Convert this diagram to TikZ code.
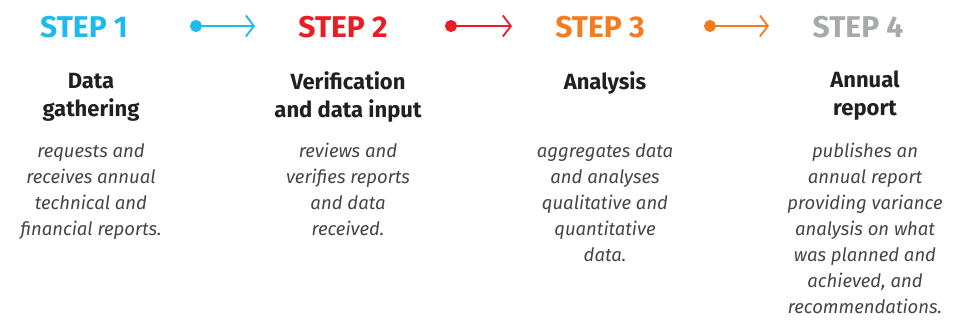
\documentclass[tikz,border=0pt]{standalone}
\usepackage{fontspec}
\setmainfont{Fira Sans}
\usetikzlibrary{arrows.meta}
\definecolor{stepcyan}{HTML}{1CBBEC}
\definecolor{stepred}{HTML}{ED1C24}
\definecolor{steporange}{HTML}{F47B20}
\definecolor{stepgray}{HTML}{A7A9AC}
\definecolor{titleink}{HTML}{231F20}
\definecolor{descink}{HTML}{454547}
\tikzset{
  steplabel/.style={font=\fontsize{30}{31}\selectfont\bfseries, inner sep=0pt},
  title/.style={font=\fontsize{22}{28}\selectfont\bfseries, align=center, anchor=north, inner sep=0pt, text=titleink},
  desc/.style={font=\fontsize{18.5}{26}\selectfont\itshape, align=center, anchor=north, inner sep=0pt, text=descink},
  flow/.style={line width=1.8pt, {Circle[length=12pt]}-{Straight Barb[length=8pt,width=21pt]}}
}
\begin{document}
\begin{tikzpicture}[x=1pt,y=-1pt]
\useasboundingbox (0,0) rectangle (957,321);
% step headings
\node[steplabel, text=stepcyan] (s1) at (84,27) {STEP 1};
\node[steplabel, text=stepred] (s2) at (343,27) {STEP 2};
\node[steplabel, text=steporange] (s3) at (600,27) {STEP 3};
\node[steplabel, text=stepgray] (s4) at (858,27) {STEP 4};

% arrows between steps
\coordinate (a1s) at (190,26); \coordinate (a1e) at (255,26);
\coordinate (a2s) at (445,26); \coordinate (a2e) at (512,26);
\coordinate (a3s) at (704,26); \coordinate (a3e) at (769,26);
\draw[flow, stepcyan] (a1s)--(a1e);
\draw[flow, stepred] (a2s)--(a2e);
\draw[flow, steporange] (a3s)--(a3e);

% titles
\node[title] (t1) at (91,73) {Data\\gathering};
\node[title] (t2) at (348,71) {Verification\\and data input};
\node[title] (t3) at (605,71) {Analysis};
\node[title] (t4) at (865,71) {Annual\\report};

% descriptions
\node[desc] (d1) at (91,143) {requests and\\receives annual\\technical and\\financial reports.};
\node[desc] (d2) at (348,143) {reviews and\\verifies reports\\and data\\received.};
\node[desc] (d3) at (605,143) {aggregates data\\and analyses\\qualitative and\\quantitative\\data.};
\node[desc] (d4) at (865,143) {publishes an\\annual report\\providing variance\\analysis on what\\was planned and\\achieved, and\\recommendations.};
\end{tikzpicture}
\end{document}
